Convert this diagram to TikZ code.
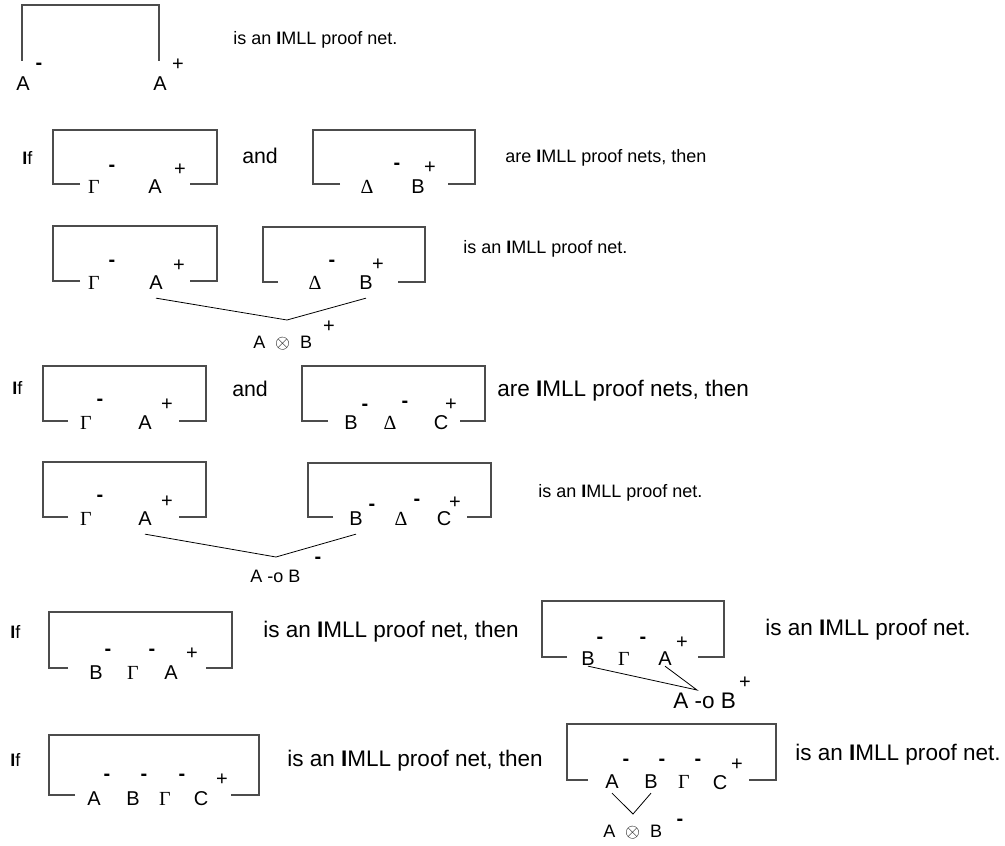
\documentclass[tikz,border=0pt]{standalone}
\usepackage{fontspec}
\setmainfont{Liberation Sans}
\newfontfamily\greekfont{Liberation Serif}
\newcommand{\sGamma}{{\greekfont Γ}}
\newcommand{\sDelta}{{\greekfont Δ}}
\newcommand{\bI}{\textbf{I}}
\newcommand{\tens}{A\hspace{0.55em}$\otimes$\hspace{0.55em}B}
\begin{document}
\begin{tikzpicture}[x=0.75pt,y=-0.75pt,
        font=\fontsize{13.5}{16}\selectfont,
        netbox/.style={draw=black!70, line width=0.8pt},
        link/.style={draw=black, line width=0.6pt},
        lit/.style={inner sep=0pt, font=\fontsize{15}{18}\selectfont},
        sgn/.style={inner sep=0pt, font=\fontsize{15}{18}\selectfont},
        txt/.style={inner sep=0pt, anchor=base west},
        bigtxt/.style={txt, font=\fontsize{16.9}{20}\selectfont}]
        \useasboundingbox (0,0) rectangle (1005,845);
        % Axiom
        \draw[netbox] (22,61) -- (22,5) -- (159,5) -- (159,61);
        \node[lit] (r1a) at (23,84) {A};
        \node[sgn] (r1as) at (39,66) {\textbf{-}};
        \node[lit] (r1b) at (160,84) {A};
        \node[sgn] (r1bs) at (178,65) {+};
        \node[txt] (r1t) at (233,45) {is an \bI MLL proof net.};
        % Tensor: premises
        \node[txt] (r2if) at (22,164) {\bI f};
        \draw[netbox] (80,184) -- (53,184) -- (53,130) -- (217,130) -- (217,184) -- (190,184);
        \node[lit] (r2g) at (94,187) {\sGamma};
        \node[sgn] (r2gs) at (112,168) {\textbf{-}};
        \node[lit] (r2a) at (155,187) {A};
        \node[sgn] (r2as) at (180,170) {+};
        \node[txt, font=\fontsize{16}{19}\selectfont] (r2and) at (242,163) {and};
        \draw[netbox] (340,184) -- (313,184) -- (313,130) -- (475,130) -- (475,184) -- (448,184);
        \node[lit] (r2d) at (367,187) {\sDelta};
        \node[sgn] (r2ds) at (397,166) {\textbf{-}};
        \node[lit] (r2b) at (418,187) {B};
        \node[sgn] (r2bs) at (430,168) {+};
        \node[txt] (r2t) at (505,162) {are \bI MLL proof nets, then};
        % Tensor: conclusion
        \draw[netbox] (80,281) -- (53,281) -- (53,226) -- (217,226) -- (217,281) -- (190,281);
        \node[lit] (r3g) at (94,283) {\sGamma};
        \node[sgn] (r3gs) at (112,263) {\textbf{-}};
        \node[lit] (r3a) at (156,283) {A};
        \node[sgn] (r3as) at (179,266) {+};
        \draw[netbox] (278,282) -- (263,282) -- (263,227) -- (425,227) -- (425,282) -- (398,282);
        \node[lit] (r3d) at (315,283) {\sDelta};
        \node[sgn] (r3ds) at (332,263) {\textbf{-}};
        \node[lit] (r3b) at (366,283) {B};
        \node[sgn] (r3bs) at (378,265) {+};
        \coordinate (r3j) at (287,320);
        \draw[link] ([yshift=-6pt]r3a.south) -- (r3j) -- ([yshift=-6pt]r3b.south);
        \node[txt] (r3l) at (253,348) {\tens};
        \node[sgn] (r3ls) at (329,327) {+};
        \node[txt] (r3t) at (463,253) {is an \bI MLL proof net.};
        % Lollipop: premises
        \node[txt] (r4if) at (12,394) {\bI f};
        \draw[netbox] (68,421) -- (43,421) -- (43,366) -- (206,366) -- (206,421) -- (179,421);
        \node[lit] (r4g) at (86,423) {\sGamma};
        \node[sgn] (r4gs) at (100,402) {\textbf{-}};
        \node[lit] (r4a) at (145,423) {A};
        \node[sgn] (r4as) at (167,405) {+};
        \node[txt, font=\fontsize{16}{19}\selectfont] (r4and) at (232,396) {and};
        \draw[netbox] (328,421) -- (302,421) -- (302,366) -- (485,366) -- (485,421) -- (460,421);
        \node[lit] (r4b) at (351,423) {B};
        \node[sgn] (r4bs) at (365,407) {\textbf{-}};
        \node[lit] (r4d) at (390,423) {\sDelta};
        \node[sgn] (r4ds) at (405,404) {\textbf{-}};
        \node[lit] (r4c) at (441,423) {C};
        \node[sgn] (r4cs) at (451,405) {+};
        \node[bigtxt] (r4t) at (497,396) {are \bI MLL proof nets, then};
        % Lollipop: conclusion
        \draw[netbox] (68,517) -- (43,517) -- (43,462) -- (206,462) -- (206,517) -- (179,517);
        \node[lit] (r5g) at (86,519) {\sGamma};
        \node[sgn] (r5gs) at (100,498) {\textbf{-}};
        \node[lit] (r5a) at (145,519) {A};
        \node[sgn] (r5as) at (167,502) {+};
        \draw[netbox] (333,517) -- (308,517) -- (308,463) -- (491,463) -- (491,517) -- (467,517);
        \node[lit] (r5b) at (356,519) {B};
        \node[sgn] (r5bs) at (372,507) {\textbf{-}};
        \node[lit] (r5d) at (401,519) {\sDelta};
        \node[sgn] (r5ds) at (417,502) {\textbf{-}};
        \node[lit] (r5c) at (444,519) {C};
        \node[sgn] (r5cs) at (455,503) {+};
        \coordinate (r5j) at (276,557);
        \draw[link] ([yshift=-6pt]r5a.south) -- (r5j) -- ([yshift=-6pt]r5b.south);
        \node[txt] (r5l) at (250,582) {A -o B};
        \node[sgn] (r5ls) at (318,560) {\textbf{-}};
        \node[txt] (r5t) at (538,497) {is an \bI MLL proof net.};
        % Right lollipop
        \node[txt] (r6if) at (10,638) {\bI f};
        \draw[netbox] (68,668) -- (49,668) -- (49,612) -- (232,612) -- (232,668) -- (206,668);
        \node[lit] (r6b) at (96,673) {B};
        \node[sgn] (r6bs) at (108,652) {\textbf{-}};
        \node[lit] (r6g) at (133,673) {\sGamma};
        \node[sgn] (r6gs) at (152,652) {\textbf{-}};
        \node[lit] (r6a) at (171,673) {A};
        \node[sgn] (r6as) at (192,654) {+};
        \node[bigtxt] (r6t) at (263,637) {is an \bI MLL proof net, then};
        \draw[netbox] (567,657) -- (542,657) -- (542,601) -- (724,601) -- (724,657) -- (698,657);
        \node[lit] (r6rb) at (588,659) {B};
        \node[sgn] (r6rbs) at (600,640) {\textbf{-}};
        \node[lit] (r6rg) at (624,659) {\sGamma};
        \node[sgn] (r6rgs) at (643,640) {\textbf{-}};
        \node[lit] (r6ra) at (665,659) {A};
        \node[sgn] (r6ras) at (682,643) {+};
        \coordinate (r6j) at (697,690);
        \draw[link] (r6rb.south) -- (r6j) -- (r6ra.south);
        \node[bigtxt] (r6l) at (673,708) {A -o B};
        \node[sgn] (r6ls) at (745,683) {+};
        \node[bigtxt] (r6rt) at (765,635) {is an \bI MLL proof net.};
        % Left tensor
        \node[txt] (r7if) at (10,766) {\bI f};
        \draw[netbox] (75,795) -- (49,795) -- (49,735) -- (259,735) -- (259,795) -- (231,795);
        \node[lit] (r7a) at (94,799) {A};
        \node[sgn] (r7as) at (107,777) {\textbf{-}};
        \node[lit] (r7b) at (133,799) {B};
        \node[sgn] (r7bs) at (144,777) {\textbf{-}};
        \node[lit] (r7g) at (165,799) {\sGamma};
        \node[sgn] (r7gs) at (182,777) {\textbf{-}};
        \node[lit] (r7c) at (201,799) {C};
        \node[sgn] (r7cs) at (222,780) {+};
        \node[bigtxt] (r7t) at (287,766) {is an \bI MLL proof net, then};
        \draw[netbox] (588,780) -- (567,780) -- (567,724) -- (776,724) -- (776,780) -- (749,780);
        \node[lit] (r7ra) at (612,782) {A};
        \node[sgn] (r7ras) at (626,762) {\textbf{-}};
        \node[lit] (r7rb) at (651,782) {B};
        \node[sgn] (r7rbs) at (662,762) {\textbf{-}};
        \node[lit] (r7rg) at (684,782) {\sGamma};
        \node[sgn] (r7rgs) at (698,762) {\textbf{-}};
        \node[lit] (r7rc) at (720,783) {C};
        \node[sgn] (r7rcs) at (737,765) {+};
        \coordinate (r7j) at (633,814);
        \draw[link] ([yshift=-3pt]r7ra.south) -- (r7j) -- ([yshift=-3pt]r7rb.south);
        \node[txt] (r7l) at (603,837) {\tens};
        \node[sgn] (r7ls) at (680,822) {\textbf{-}};
        \node[bigtxt] (r7rt) at (795,760) {is an \bI MLL proof net.};
    \end{tikzpicture}
\end{document}
